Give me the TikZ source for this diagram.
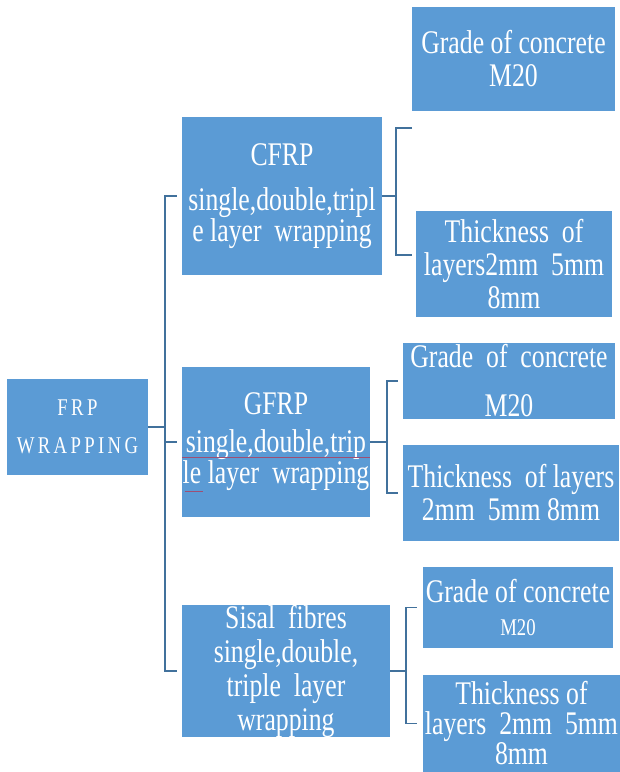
\documentclass[tikz,border=0pt]{standalone}
\usepackage{fontspec}
\setmainfont{Liberation Serif}
\newfontfamily\condserif{Liberation Serif}[FakeStretch=0.78]
\definecolor{boxblue}{HTML}{5B9BD5}
\definecolor{linkblue}{HTML}{41719C}
\definecolor{spellred}{HTML}{9E4F74}

\begin{document}
\begin{tikzpicture}[x=1pt,y=-1pt,
  box/.style={fill=boxblue,text=white,align=center,inner sep=0pt,
    font=\condserif\fontsize{33}{33}\selectfont},
  link/.style={draw=linkblue,line width=1.6pt},
  spell/.style={draw=spellred,line width=1pt}]
  \useasboundingbox (0,0) rectangle (620,772);
  % root box
  \node[box,minimum width=141pt,minimum height=96pt,
    font=\condserif\fontsize{24}{38}\selectfont\addfontfeature{LetterSpace=14}] (frp) at (77.5,427) {FRP\\WRAPPING};
  % fibre boxes
  \node[box,minimum width=200pt,minimum height=158pt] (cfrp) at (282,196)
    {CFRP\\[12pt]single,double,tripl\\[-2pt]e layer~~wrapping};
  \node[box,minimum width=188pt,minimum height=150pt] (gfrp) at (276,442)
    {GFRP\\[5pt]single,double,trip\\[-2pt]le layer~~wrapping};
  \node[box,minimum width=208pt,minimum height=132pt,font=\condserif\fontsize{33}{34}\selectfont] (sisal) at (286,671)
    {Sisal~~fibres\\single,double,\\triple~~layer\\wrapping};
  % concrete and layer boxes
  \node[box,minimum width=203pt,minimum height=104pt] (cgrade) at (513.5,59) {Grade of concrete\\M20};
  \node[box,minimum width=196pt,minimum height=106pt] (cthick) at (514,264) {Thickness~~of\\layers2mm~~5mm\\8mm};
  \node[box,minimum width=212pt,minimum height=76pt] (ggrade) at (509,381) {Grade~~of~~concrete\\[16pt]M20};
  \node[box,minimum width=216pt,minimum height=96pt] (gthick) at (511,493) {Thickness~~of~layers\\2mm~~5mm~8mm};
  \node[box,minimum width=190pt,minimum height=81pt] (sgrade) at (518,607.5)
    {Grade of concrete\\{\fontsize{24}{24}\selectfont M20}};
  \node[box,minimum width=197pt,minimum height=97pt,font=\condserif\fontsize{33}{30}\selectfont] (sthick) at (521.5,723.5)
    {Thickness~of\\layers~~2mm~~5mm\\8mm};
  % left spine
  \coordinate (spine) at (165,427);
  \draw[link] (frp.east) -- (spine);
  \draw[link] ([xshift=-5pt]cfrp.west) -- (cfrp.west -| spine) -- (sisal.west -| spine) -- ([xshift=-5pt]sisal.west);
  \draw[link] ([xshift=-5pt]gfrp.west) -- (gfrp.west -| spine);
  % brackets
  \coordinate (cbar) at (396,196);
  \coordinate (cfree) at (412,128);
  \draw[link] (cfrp.east) -- (cbar);
  \draw[link] (cfree) -| (cbar) |- ([xshift=-4pt,yshift=9pt]cthick.west);
  \draw[link] (gfrp.east) -- ++(17,0) coordinate (gbar);
  \draw[link] ([xshift=-5pt]ggrade.west) -| (gbar) |- ([xshift=-5pt]gthick.west);
  \draw[link] (sisal.east) -- ++(16,0) coordinate (sbar);
  \draw[link] ([xshift=-6pt]sgrade.west) -| (sbar) |- ([xshift=-6pt]sthick.west);
  % spelling marks
  \draw[spell] ([yshift=-15pt]gfrp.west) -- ([yshift=-15pt]gfrp.east);
  \draw[spell] ([xshift=3pt,yshift=-49pt]gfrp.west) -- ++(18,0);
\end{tikzpicture}
\end{document}
